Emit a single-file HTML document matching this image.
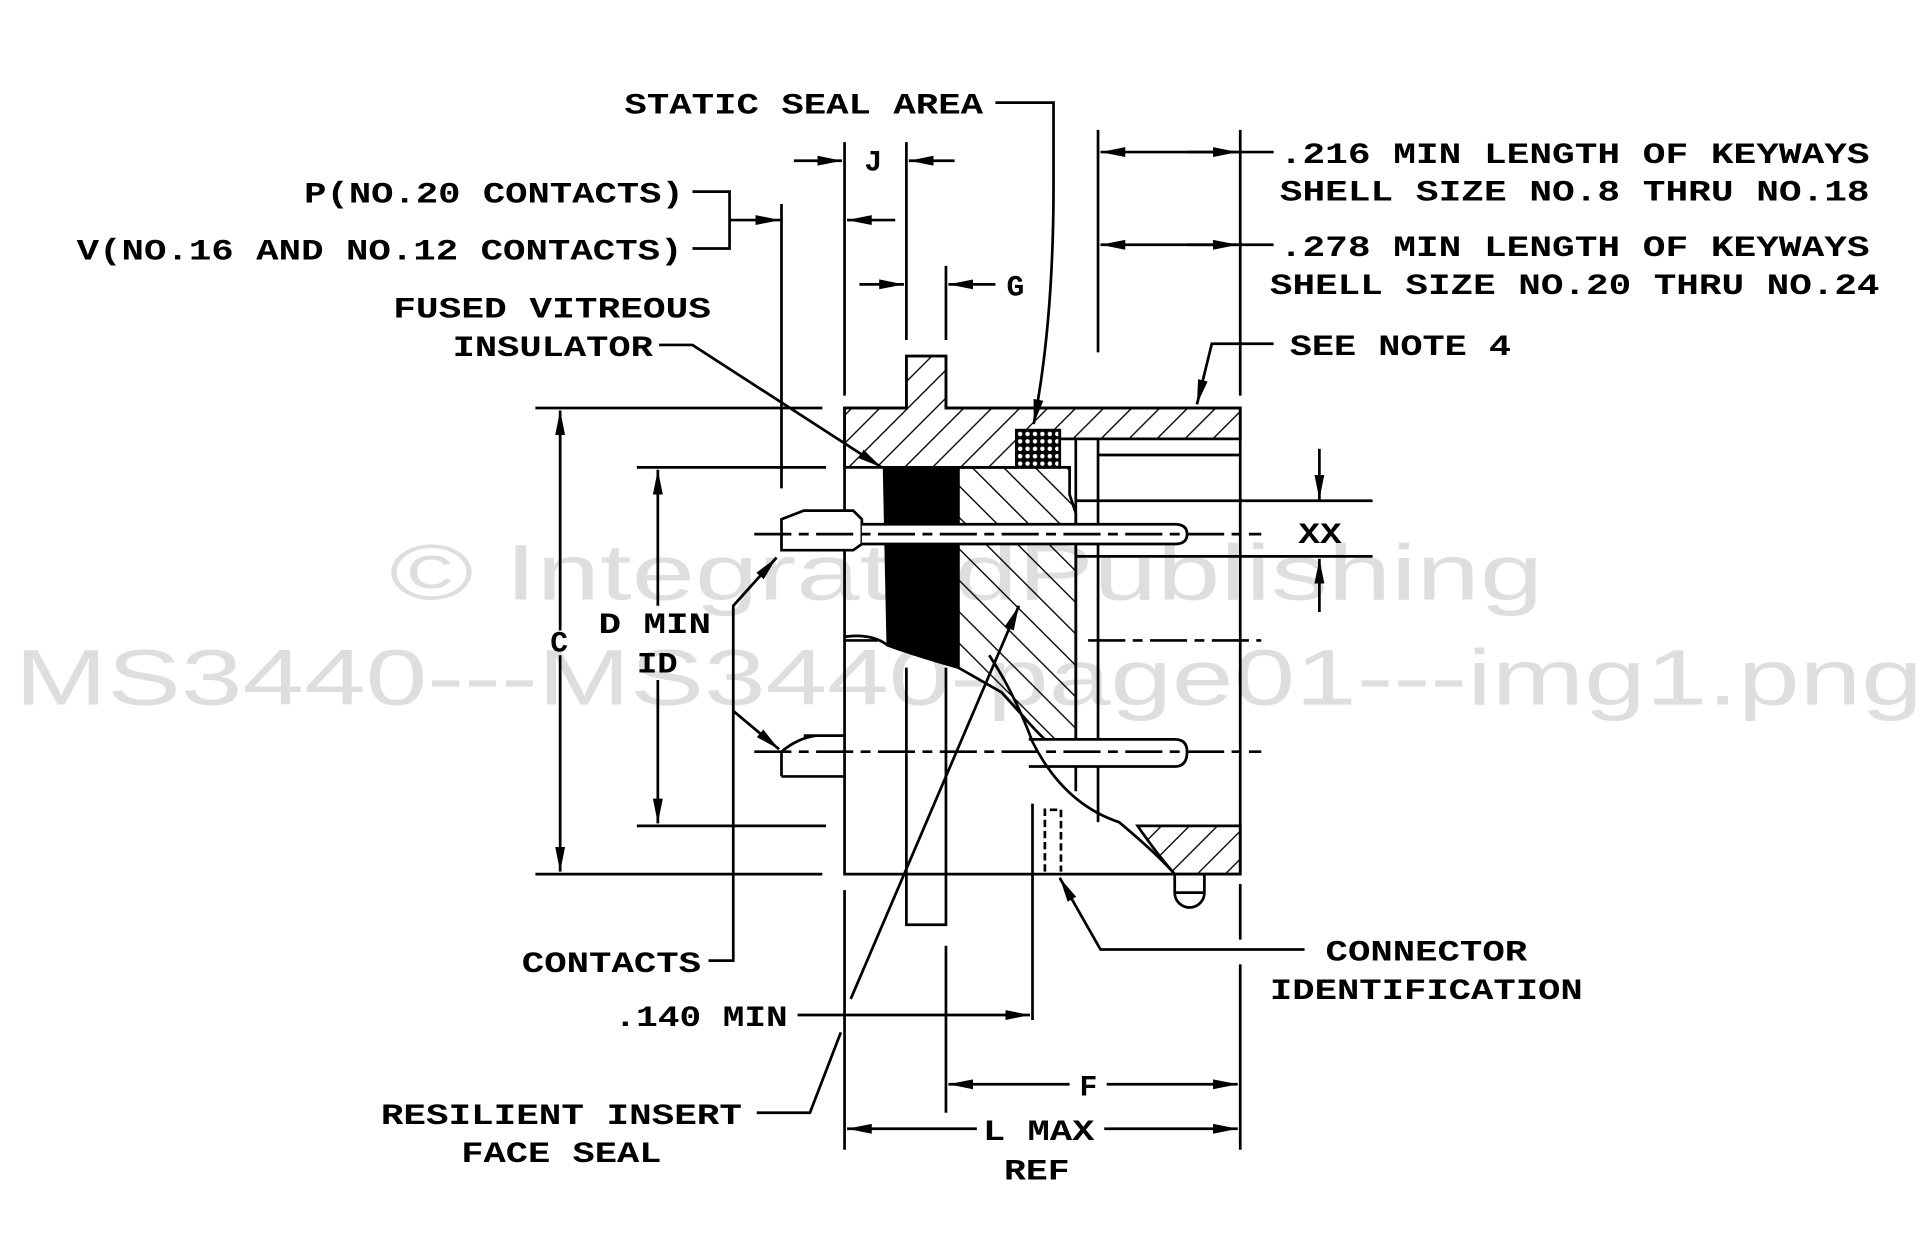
<!DOCTYPE html>
<html><head><meta charset="utf-8"><style>
html,body{margin:0;padding:0;background:#fff;}
svg{display:block;}
text{font-family:"Liberation Mono","DejaVu Sans Mono",monospace;font-weight:bold;font-size:24px;fill:#000;}
text.wm{font-family:"Liberation Sans",sans-serif;font-weight:normal;fill:#d9d9d9;opacity:0.85;font-size:64px;}
</style></head><body>
<svg width="1929" height="1245" viewBox="0 0 1560 1007" preserveAspectRatio="none" xmlns="http://www.w3.org/2000/svg">
<defs>
<pattern id="h1" patternUnits="userSpaceOnUse" width="16" height="16" patternTransform="rotate(45)"><line x1="0" y1="0" x2="0" y2="16" stroke="#000" stroke-width="2.2"/></pattern>
<pattern id="h2" patternUnits="userSpaceOnUse" width="18" height="18" patternTransform="rotate(-45)"><line x1="0" y1="0" x2="0" y2="18" stroke="#000" stroke-width="2.2"/></pattern>
<pattern id="x1" patternUnits="userSpaceOnUse" width="6" height="6"><rect width="6" height="6" fill="#000"/><circle cx="3" cy="3" r="1.8" fill="#fff"/></pattern>
<marker id="a" viewBox="0 0 20 10" refX="20" refY="5" markerWidth="20" markerHeight="10" markerUnits="userSpaceOnUse" orient="auto"><path d="M0,1 L20,5 L0,9 Z" fill="#000"/></marker>
</defs>
<text class="wm" x="315" y="485" textLength="933" lengthAdjust="spacingAndGlyphs">© IntegratedPublishing</text>
<text class="wm" x="12" y="570" textLength="1543" lengthAdjust="spacingAndGlyphs">MS3440---MS3440-page01---img1.png</text>
<g stroke="#000" stroke-width="2.2" fill="none">
<line x1="632" y1="165" x2="632" y2="395"/>
<line x1="683" y1="115" x2="683" y2="320"/>
<line x1="733" y1="115" x2="733" y2="275"/>
<line x1="765" y1="215" x2="765" y2="275"/>
<line x1="888" y1="105" x2="888" y2="285"/>
<line x1="1003" y1="105" x2="1003" y2="320"/>
<line x1="642" y1="130" x2="681" y2="130" marker-end="url(#a)"/>
<line x1="772" y1="130" x2="735" y2="130" marker-end="url(#a)"/>
<polyline points="560,155 590,155 590,201 560,201"/>
<line x1="590" y1="178" x2="631" y2="178" marker-end="url(#a)"/>
<line x1="724" y1="178" x2="685" y2="178" marker-end="url(#a)"/>
<line x1="695" y1="230" x2="731" y2="230" marker-end="url(#a)"/>
<line x1="805" y1="230" x2="767" y2="230" marker-end="url(#a)"/>
<line x1="1030" y1="123" x2="890" y2="123" marker-end="url(#a)"/>
<line x1="960" y1="123" x2="1001" y2="123" marker-end="url(#a)"/>
<line x1="1030" y1="198" x2="890" y2="198" marker-end="url(#a)"/>
<line x1="960" y1="198" x2="1001" y2="198" marker-end="url(#a)"/>
<path d="M805,83 H852 V150 Q852,260 836,343" marker-end="url(#a)"/>
<path d="M533,279 H560 L713,378" marker-end="url(#a)"/>
<path d="M1030,278 H980 L968,327" marker-end="url(#a)"/>
<path d="M683,330 H733 V288 H765 V330 H1003 V707 H683 Z"/>
<path d="M683,330 H733 V288 H765 V330 H1003 V355 H888 V355 H857 V348 H822 V378 H683 Z" fill="url(#h1)"/>
<rect x="822" y="348" width="35" height="30" fill="url(#x1)"/>
<line x1="888" y1="368" x2="1003" y2="368"/>
<line x1="870" y1="355" x2="870" y2="640"/>
<line x1="888" y1="355" x2="888" y2="665"/>
<path d="M715,378 H775 V540 Q740,530 718,522 Z" fill="#000"/>
<path d="M683,515 Q705,512 718,522"/>
<path d="M775,378 H865 V400 L870,415 V620 Q845,600 828,580 L810,560 L775,540 Z" fill="url(#h2)"/>
<path d="M733,540 V748 H765 V540"/>
<path d="M632,420 L650,413 H690 L697,420 V440 L690,445 H632 Z" fill="#fff"/>
<path d="M697,424 H950 Q960,424 960,432 Q960,440 950,440 H697" fill="#fff"/>
<path d="M832,598 H950 Q960,598 960,608 Q960,620 950,620 H832" fill="#fff"/>
<path d="M632,628 H683 M632,628 V608 M650,595 H683 M632,608 Q645,597 660,595"/>
<path d="M800,530 Q820,560 835,600 Q860,650 905,665 Q935,690 950,707"/>
<path d="M920,668 H1003 V707 H950 Q935,690 920,668 Z" fill="url(#h1)"/>
<path d="M950,707 V722 A12,12 0 0 0 974,722 V707 M950,722 H974"/>
<path d="M845,705 V655 H858 V705" stroke-dasharray="6,3"/>
<line x1="835" y1="650" x2="835" y2="825"/>
<line x1="610" y1="432" x2="1020" y2="432" stroke-dasharray="30,6,8,6"/>
<line x1="610" y1="608" x2="1020" y2="608" stroke-dasharray="30,6,8,6"/>
<line x1="880" y1="518" x2="1020" y2="518" stroke-dasharray="30,6,8,6"/>
<line x1="683" y1="518" x2="710" y2="518"/>
<line x1="870" y1="405" x2="1110" y2="405"/>
<line x1="870" y1="450" x2="1110" y2="450"/>
<line x1="1067" y1="363" x2="1067" y2="404" marker-end="url(#a)"/>
<line x1="1067" y1="495" x2="1067" y2="452" marker-end="url(#a)"/>
<line x1="433" y1="330" x2="665" y2="330"/>
<line x1="433" y1="707" x2="665" y2="707"/>
<line x1="453" y1="510" x2="453" y2="332" marker-end="url(#a)"/>
<line x1="453" y1="530" x2="453" y2="705" marker-end="url(#a)"/>
<line x1="515" y1="378" x2="668" y2="378"/>
<line x1="515" y1="668" x2="668" y2="668"/>
<line x1="532" y1="490" x2="532" y2="380" marker-end="url(#a)"/>
<line x1="532" y1="550" x2="532" y2="666" marker-end="url(#a)"/>
<path d="M573,777 H593 V490 L628,451" marker-end="url(#a)"/>
<path d="M593,575 L630,606" marker-end="url(#a)"/>
<line x1="688" y1="808" x2="824" y2="490" marker-end="url(#a)"/>
<line x1="683" y1="720" x2="683" y2="930"/>
<line x1="765" y1="765" x2="765" y2="900"/>
<line x1="1003" y1="715" x2="1003" y2="760"/>
<line x1="1003" y1="780" x2="1003" y2="930"/>
<line x1="645" y1="821" x2="833" y2="821" marker-end="url(#a)"/>
<path d="M612,900 H655 L680,835"/>
<line x1="865" y1="877" x2="767" y2="877" marker-end="url(#a)"/>
<line x1="895" y1="877" x2="1001" y2="877" marker-end="url(#a)"/>
<line x1="790" y1="913" x2="685" y2="913" marker-end="url(#a)"/>
<line x1="893" y1="913" x2="1001" y2="913" marker-end="url(#a)"/>
<path d="M1055,768 H890 L857,710" marker-end="url(#a)"/>
</g>
<g>
<text x="505" y="92" textLength="290" lengthAdjust="spacingAndGlyphs">STATIC SEAL AREA</text>
<text x="699" y="138">J</text>
<text x="246" y="164" textLength="307" lengthAdjust="spacingAndGlyphs">P(NO.20 CONTACTS)</text>
<text x="62" y="210" textLength="490" lengthAdjust="spacingAndGlyphs">V(NO.16 AND NO.12 CONTACTS)</text>
<text x="814" y="239">G</text>
<text x="318" y="257" textLength="257" lengthAdjust="spacingAndGlyphs">FUSED VITREOUS</text>
<text x="366" y="288" textLength="162" lengthAdjust="spacingAndGlyphs">INSULATOR</text>
<text x="1035" y="132" textLength="477" lengthAdjust="spacingAndGlyphs">.216 MIN LENGTH OF KEYWAYS</text>
<text x="1035" y="162" textLength="477" lengthAdjust="spacingAndGlyphs">SHELL SIZE NO.8 THRU NO.18</text>
<text x="1035" y="207" textLength="477" lengthAdjust="spacingAndGlyphs">.278 MIN LENGTH OF KEYWAYS</text>
<text x="1027" y="238" textLength="493" lengthAdjust="spacingAndGlyphs">SHELL SIZE NO.20 THRU NO.24</text>
<text x="1043" y="287" textLength="179" lengthAdjust="spacingAndGlyphs">SEE NOTE 4</text>
<text x="1050" y="439" textLength="35" lengthAdjust="spacingAndGlyphs">XX</text>
<text x="445" y="527">C</text>
<text x="484" y="512" textLength="91" lengthAdjust="spacingAndGlyphs">D MIN</text>
<text x="515" y="544" textLength="33" lengthAdjust="spacingAndGlyphs">ID</text>
<text x="422" y="786" textLength="145" lengthAdjust="spacingAndGlyphs">CONTACTS</text>
<text x="1072" y="777" textLength="163" lengthAdjust="spacingAndGlyphs">CONNECTOR</text>
<text x="1027" y="808" textLength="253" lengthAdjust="spacingAndGlyphs">IDENTIFICATION</text>
<text x="497" y="830" textLength="140" lengthAdjust="spacingAndGlyphs">.140 MIN</text>
<text x="873" y="886">F</text>
<text x="308" y="909" textLength="292" lengthAdjust="spacingAndGlyphs">RESILIENT INSERT</text>
<text x="373" y="940" textLength="162" lengthAdjust="spacingAndGlyphs">FACE SEAL</text>
<text x="795" y="922" textLength="90" lengthAdjust="spacingAndGlyphs">L MAX</text>
<text x="812" y="954" textLength="53" lengthAdjust="spacingAndGlyphs">REF</text>
</g>
</svg>
</body></html>
